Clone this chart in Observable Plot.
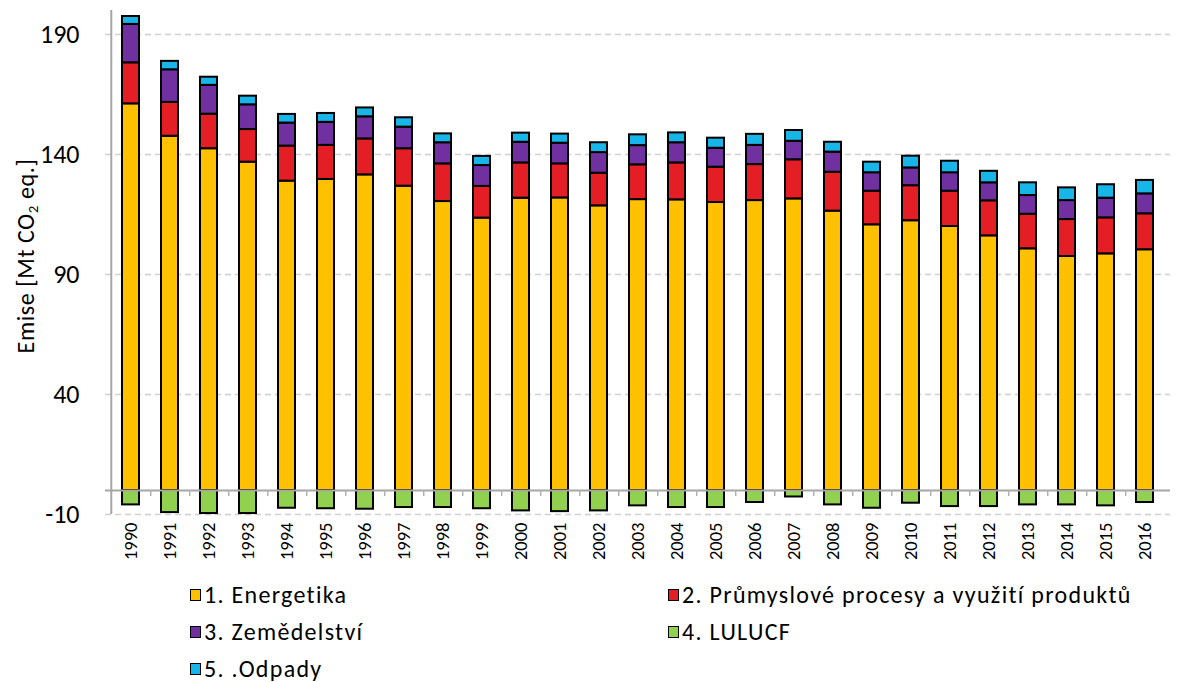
<!DOCTYPE html>
<html>
<head>
<meta charset="utf-8">
<script src="https://cdn.jsdelivr.net/npm/d3@7"></script>
<script src="https://cdn.jsdelivr.net/npm/@observablehq/plot@0.6"></script>
<style>
  html, body { margin: 0; padding: 0; background: #fff; }
  body { position: relative; width: 1178px; height: 682px; overflow: hidden; font-family: Carlito, Calibri, Lato, sans-serif; }
  #chart { position: absolute; left: 0; top: 0; }
  #ylabel { position: absolute; left: 25px; top: 256px; transform: translate(-50%, -50%) rotate(-90deg); font-size: 24px; white-space: nowrap; color: #000; letter-spacing: 0.6px; }
  #ylabel sub { font-size: 15px; vertical-align: -4px; line-height: 0; }
  #legend { position: absolute; left: 190px; top: 576px; display: grid; grid-template-columns: 478px 480px; font-size: 24px; color: #000; }
  .item { display: flex; align-items: center; height: 37px; white-space: nowrap; letter-spacing: 1.3px; }
  .sw { width: 9px; height: 10px; border: 1.5px solid #000; margin-right: 3px; box-sizing: content-box; }
</style>
</head>
<body>
<div id="chart"></div>
<div id="ylabel">Emise [Mt CO<sub>2</sub> eq.]</div>
<div id="legend"></div>
<script>
const years = ["1990","1991","1992","1993","1994","1995","1996","1997","1998","1999","2000","2001","2002","2003","2004","2005","2006","2007","2008","2009","2010","2011","2012","2013","2014","2015","2016"];
const energetika  = [161.1,147.6,142.4,136.8,128.9,129.6,131.5,126.8,120.4,113.5,121.8,121.9,118.6,121.2,121.1,120.0,120.8,121.5,116.4,110.7,112.4,110.0,106.1,100.7,97.5,98.6,100.3];
const prumysl     = [17.1,14.1,14.4,13.6,14.6,14.2,15.0,15.6,15.7,13.2,14.7,14.2,13.6,14.5,15.4,14.7,15.0,16.3,16.2,14.0,14.6,14.7,14.6,14.4,15.4,15.0,15.0];
const zemedelstvi = [16.0,13.6,12.0,10.3,9.6,9.6,9.2,9.0,8.8,8.7,8.6,8.6,8.6,8.0,8.4,7.9,8.0,7.7,8.4,7.7,7.4,7.7,7.5,7.8,7.9,8.2,8.3];
const lulucf      = [-6.0,-9.2,-9.6,-9.6,-7.4,-7.6,-7.8,-7.1,-7.1,-7.6,-8.5,-8.8,-8.5,-6.4,-7.1,-7.1,-5.0,-2.7,-6.0,-7.4,-5.3,-6.7,-6.7,-6.0,-6.0,-6.4,-5.0];
const odpady      = [3.3,3.5,3.4,3.6,3.6,3.7,3.7,3.9,3.7,3.8,3.8,3.8,4.1,4.5,4.1,4.2,4.6,4.5,4.1,4.4,4.9,4.8,4.8,5.3,5.3,5.6,5.6];
const categories = ["1. Energetika","2. Průmyslové procesy a využití produktů","3. Zemědelství","4. LULUCF","5. .Odpady"];
const colors = ["#FFC000","#E31E24","#7030A0","#92D050","#17B5E8"];
const yTicks = [-10,40,90,140,190];

const series = [energetika, prumysl, zemedelstvi, lulucf, odpady];
const data = [];
years.forEach((yr, i) => {
  series.forEach((s, k) => data.push({year: yr, cat: categories[k], value: s[i]}));
});

const W = 1178, H = 576, ML = 105, MR = 8, MT = 10, MB = 62;
const step = (W - ML - MR) / years.length;

const chart = Plot.plot({
  width: W, height: H,
  marginLeft: ML, marginRight: MR, marginTop: MT, marginBottom: MB,
  style: {fontFamily: "Carlito, Calibri, Lato, sans-serif", background: "#fff", color: "#000"},
  x: {domain: years, paddingInner: 0.56, paddingOuter: 0.28},
  y: {domain: [-10, 200]},
  color: {domain: categories, range: colors},
  marks: [
    Plot.ruleY(yTicks, {stroke: "#d0d0d0", strokeWidth: 1.5, strokeDasharray: "6,4"}),
    Plot.barY(data, {x: "year", y: "value", fill: "cat", order: categories, stroke: "#000", strokeWidth: 2}),
    Plot.ruleY([0], {stroke: "#a6a6a6", strokeWidth: 2}),
    Plot.ruleX(years.slice(0, -1), {x: d => d, y1: 0, y2: -2.5, stroke: "#b0b0b0", strokeWidth: 1.5, dx: step / 2}),
    Plot.axisY({ticks: yTicks, tickFormat: d => String(d), tickSize: 0, tickPadding: 26, fontSize: 26, label: null}),
    Plot.axisX({tickSize: 0, tickPadding: 8, tickRotate: -90, fontSize: 18.5, label: null}),
    Plot.ruleX([0], {x: () => years[0], y1: -10, y2: 200, stroke: "#a6a6a6", strokeWidth: 2, dx: -step / 2})
  ]
});
document.getElementById("chart").appendChild(chart);

const legend = document.getElementById("legend");
categories.forEach((c, k) => {
  const it = document.createElement("div");
  it.className = "item";
  const sw = document.createElement("span");
  sw.className = "sw";
  sw.style.background = colors[k];
  const tx = document.createElement("span");
  tx.textContent = c;
  it.appendChild(sw); it.appendChild(tx);
  legend.appendChild(it);
});
</script>
</body>
</html>
